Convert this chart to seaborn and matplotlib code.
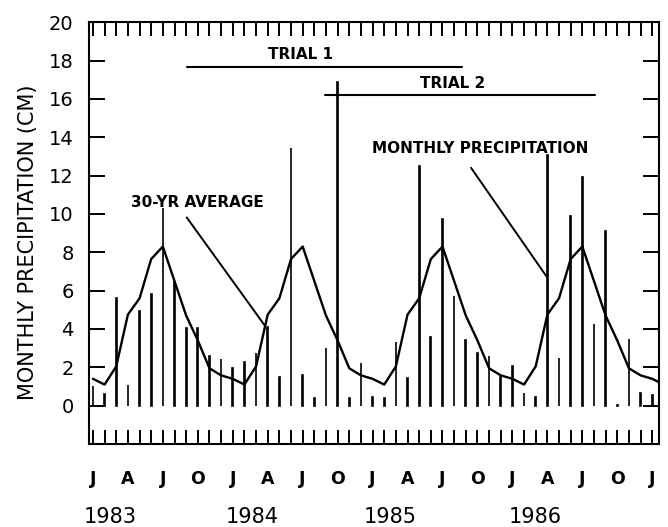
#! /usr/bin/python3

import numpy as np
import pandas as pd
import matplotlib
matplotlib.use("Agg")
import matplotlib.pyplot as plt
import seaborn as sns

# monthly precipitation (cm), Jan 1983 .. Jan 1987
precip_1983 = [1.0, 0.6, 5.63, 1.1, 4.96, 5.83, 10.3, 6.47, 4.04, 4.04, 2.59, 2.42]
precip_1984 = [1.95, 2.26, 2.77, 4.12, 1.51, 13.43, 1.6, 0.42, 3.03, 16.87, 0.42, 2.24]
precip_1985 = [0.47, 0.42, 3.34, 1.46, 12.5, 3.57, 9.74, 5.72, 3.43, 2.73, 2.6, 1.51]
precip_1986 = [2.08, 0.65, 0.44, 13.08, 2.48, 9.9, 11.93, 4.26, 9.13, 0.05, 3.5, 0.68]
precip_1987 = [0.56]

# 30-yr average, Jan 1983 .. Feb 1987
avg_1983 = [1.4, 1.1, 2.05, 4.75, 5.6, 7.65, 8.3, 6.5, 4.7, 3.4, 1.95, 1.58]
avg_1984 = [1.4, 1.1, 2.05, 4.75, 5.6, 7.65, 8.3, 6.5, 4.7, 3.4, 1.95, 1.58]
avg_1985 = [1.4, 1.1, 2.05, 4.75, 5.6, 7.65, 8.3, 6.5, 4.7, 3.4, 1.95, 1.58]
avg_1986 = [1.4, 1.1, 2.05, 4.75, 5.6, 7.65, 8.3, 6.5, 4.7, 3.4, 1.95, 1.58]
avg_1987 = [1.4, 1.1]

month_letters = ["J", "A", "J", "O"]
years = ["1983", "1984", "1985", "1986"]
year_pos = [1.5, 13.7, 25.5, 38.0]

# trial periods (month index from Jan 1983)
trial_names = ["TRIAL 1", "TRIAL 2"]
trial_start = [8.04, 19.9]
trial_end = [31.65, 43.1]
trial_level = [17.65, 16.2]

precip = precip_1983 + precip_1984 + precip_1985 + precip_1986 + precip_1987
avg = avg_1983 + avg_1984 + avg_1985 + avg_1986 + avg_1987

bars = pd.DataFrame({"month": np.arange(len(precip)), "precip": precip})
curve = pd.DataFrame({"month": np.arange(len(avg)), "avg": avg})

sns.set_style("ticks")
plt.rcParams["font.family"] = ["DejaVu Sans"]
plt.rcParams["text.color"] = "black"
plt.rcParams["axes.labelcolor"] = "black"
plt.rcParams["xtick.color"] = "black"
plt.rcParams["ytick.color"] = "black"

fig = plt.figure(figsize=(6.68, 5.27), dpi=100)
ax = fig.add_axes([0.1332, 0.1575, 0.8533, 0.8002])

sns.barplot(data=bars, x="month", y="precip", native_scale=True, color="black",
	width=0.06, saturation=1, edgecolor="black", linewidth=1.2, ax=ax)
sns.lineplot(data=curve, x="month", y="avg", color="black", lw=1.7, ax=ax)

for name, s, e, lvl in zip(trial_names, trial_start, trial_end, trial_level):
	ax.plot([s, e], [lvl, lvl], color="black", lw=1.5)
ax.text(17.8, 18.3, trial_names[0], ha="center", va="center", fontsize=11, fontweight="bold")
ax.text(30.9, 16.8, trial_names[1], ha="center", va="center", fontsize=11, fontweight="bold")

ax.text(9.0, 10.6, "30-YR AVERAGE", ha="center", va="center", fontsize=11, fontweight="bold")
ax.plot([8.05, 14.76], [9.82, 4.17], color="black", lw=1.4)
ax.text(33.2, 13.4, "MONTHLY PRECIPITATION", ha="center", va="center", fontsize=11, fontweight="bold")
ax.plot([32.45, 38.94], [12.41, 6.73], color="black", lw=1.4)

ax.set_xlim(-0.34, 48.58)
ax.set_ylim(-2, 20)

xt = np.arange(0, 49)
ax.set_xticks(xt)
ax.set_xticklabels([month_letters[(i // 3) % 4] if i % 3 == 0 else "" for i in xt],
	fontsize=12.5, fontweight="bold")
ax.set_yticks(np.arange(0, 21, 2))
ax.set_yticklabels([str(v) for v in range(0, 21, 2)], fontsize=14)
ax.tick_params(axis="x", direction="in", length=10, width=1.4, top=True, bottom=True, pad=19)
ax.tick_params(axis="y", direction="in", length=11.5, width=1.4, left=True, right=True, pad=11)

for yr, xp in zip(years, year_pos):
	ax.text(xp, -0.173, yr, transform=ax.get_xaxis_transform(), ha="center", va="center", fontsize=15)

ax.set_xlabel("")
ax.set_ylabel("MONTHLY PRECIPITATION (CM)", fontsize=15)
ax.yaxis.set_label_coords(-0.0895, 0.478)

for sp in ax.spines.values():
	sp.set_linewidth(1.5)
	sp.set_color("black")

fig.savefig("out.png", dpi=100)
